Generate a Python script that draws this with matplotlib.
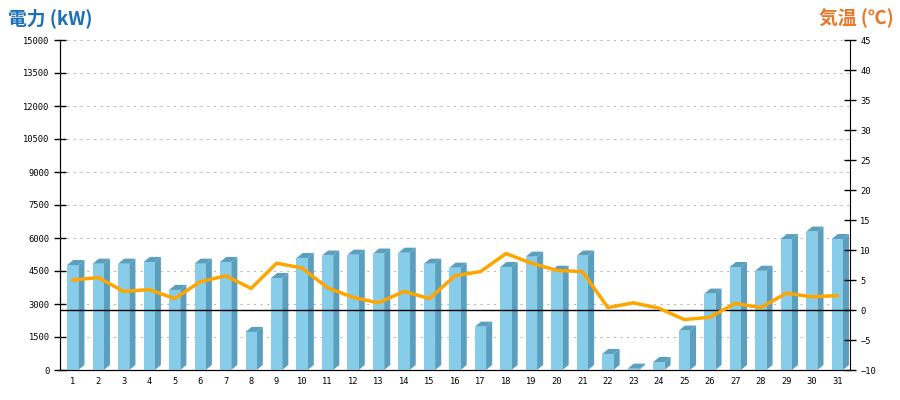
import matplotlib.pyplot as plt
from matplotlib.patches import Polygon
import numpy as np

plt.rcParams['font.family'] = ['Noto Sans CJK JP', 'DejaVu Sans']

days = list(range(1, 32))
power = [4770, 4830, 4830, 4910, 3640, 4830, 4910, 1730, 4180, 5090,
         5200, 5240, 5290, 5330, 4830, 4650, 1970, 4680, 5150, 4510,
         5200, 730, 60, 360, 1790, 3470, 4680, 4510, 5950, 6290, 5950]
temp = [5.0, 5.4, 3.1, 3.4, 1.9, 4.7, 5.7, 3.6, 7.8, 7.0,
        3.7, 2.1, 1.2, 3.1, 1.9, 5.7, 6.4, 9.4, 7.8, 6.6,
        6.4, 0.4, 1.2, 0.3, -1.6, -1.2, 1.1, 0.4, 2.8, 2.2, 2.4]

front = '#87cdea'
side = '#5a9fbd'

fig = plt.figure(figsize=(9, 4), dpi=100)
ax = fig.add_axes([60/900, 30/400, 790/900, 330/400])
ax2 = ax.twinx()

w = 0.44
dx = 0.24
dy = 230
for d, v in zip(days, power):
    x0 = d - w/2
    x1 = d + w/2
    ax.add_patch(Polygon([(x1, 0), (x1 + dx, dy), (x1 + dx, v + dy), (x1, v)],
                         closed=True, facecolor=side, edgecolor='none', zorder=3))
    ax.add_patch(Polygon([(x0, v), (x0 + dx, v + dy), (x1 + dx, v + dy), (x1, v)],
                         closed=True, facecolor=side, edgecolor='none', zorder=3))
ax.bar(days, power, width=w, color=front, zorder=4)

ax.set_xlim(0.5, 31.5)
ax.set_ylim(0, 15000)
ax.set_yticks(np.arange(0, 15001, 1500))
ax.set_xticks(days)
ax.grid(axis='y', color='#bbbbbb', linestyle=(0, (2, 4)), linewidth=0.8, zorder=0)
ax.set_axisbelow(True)

ax2.set_ylim(-10, 45)
ax2.set_yticks(np.arange(-10, 46, 5))
ax2.axhline(0, color='black', linewidth=1, zorder=5)
ax2.plot(days, temp, color='#ffa500', linewidth=2.5, zorder=6)

for a in (ax, ax2):
    a.spines['top'].set_visible(False)
    a.tick_params(axis='y', direction='inout', length=8, width=1, labelsize=6.3)
    for lab in a.get_yticklabels():
        lab.set_family('DejaVu Sans Mono')
ax.tick_params(axis='x', length=0, labelsize=6.3, pad=5)
for lab in ax.get_xticklabels():
    lab.set_family('DejaVu Sans Mono')
ax.spines['right'].set_visible(False)

fig.text(8/900, 1 - 18/400, '電力 (kW)', color='#1a6fb5', fontsize=13.5,
         fontweight='bold', va='center', ha='left')
fig.text(894/900, 1 - 18/400, '気温 (℃)', color='#e8782a', fontsize=13.5,
         fontweight='bold', va='center', ha='right')

fig.savefig('out.png', dpi=100)
